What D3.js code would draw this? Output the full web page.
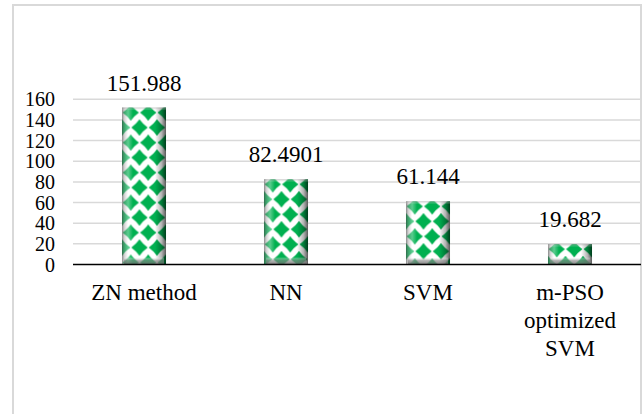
<!DOCTYPE html>
<html><head><meta charset="utf-8">
<script src="https://cdn.jsdelivr.net/npm/d3@7"></script>
<style>body{margin:0;background:#fff}svg{display:block}</style>
</head><body>
<script>
const categories = ["ZN method", "NN", "SVM", "m-PSO optimized SVM"];
const categoryLines = [["ZN method"], ["NN"], ["SVM"], ["m-PSO", "optimized", "SVM"]];
const values = [151.988, 82.4901, 61.144, 19.682];
const valueLabels = ["151.988", "82.4901", "61.144", "19.682"];
const yTicks = [0, 20, 40, 60, 80, 100, 120, 140, 160];

const W = 642, H = 414;
const FONT = '"Liberation Serif"';
const svg = d3.select("body").append("svg").attr("width", W).attr("height", H);

svg.append("rect").attr("x", 13).attr("y", 5).attr("width", 628).attr("height", 420)
  .attr("fill", "#fff").attr("stroke", "#d9d9d9").attr("stroke-width", 2);

const x = d3.scaleBand().domain(categories).range([73, 641]).paddingInner(0.69).paddingOuter(0.345);
const y = d3.scaleLinear().domain([0, 160]).range([264.5, 99.3]);

const defs = svg.append("defs");
const gh = defs.append("linearGradient").attr("id", "bevH").attr("x1", 0).attr("x2", 1).attr("y1", 0).attr("y2", 0);
[[0, "#444", 0.65], [0.06, "#999", 0.4], [0.14, "#fff", 0.35], [0.25, "#fff", 0], [0.75, "#000", 0], [0.9, "#000", 0.3], [1, "#000", 0.65]]
  .forEach(([o, c, a]) => gh.append("stop").attr("offset", o).attr("stop-color", c).attr("stop-opacity", a));
const gv = defs.append("linearGradient").attr("id", "bevB").attr("x1", 0).attr("x2", 0).attr("y1", 0).attr("y2", 1);
[[0, "#fff", 0.2], [0.4, "#888", 0.6], [1, "#666", 0.85]]
  .forEach(([o, c, a]) => gv.append("stop").attr("offset", o).attr("stop-color", c).attr("stop-opacity", a));
const gt = defs.append("linearGradient").attr("id", "bevT").attr("x1", 0).attr("x2", 0).attr("y1", 0).attr("y2", 1);
[[0, "#888", 0.5], [1, "#fff", 0]]
  .forEach(([o, c, a]) => gt.append("stop").attr("offset", o).attr("stop-color", c).attr("stop-opacity", a));

const diamond = (cx, cy, rx, ry) => {
  const k = 0.42;
  return `M${cx},${cy - ry}Q${cx + rx * k},${cy - ry * k} ${cx + rx},${cy}Q${cx + rx * k},${cy + ry * k} ${cx},${cy + ry}` +
    `Q${cx - rx * k},${cy + ry * k} ${cx - rx},${cy}Q${cx - rx * k},${cy - ry * k} ${cx},${cy - ry}Z`;
};

values.forEach((v, i) => {
  const bx = x(categories[i]), by = y(v);
  const p = defs.append("pattern").attr("id", "pat" + i).attr("patternUnits", "userSpaceOnUse")
    .attr("x", bx).attr("y", by).attr("width", 17.5).attr("height", 30);
  p.append("rect").attr("width", 17.5).attr("height", 30).attr("fill", "#fff");
  const r = 8.2;
  const dpath = diamond(8.75, 5, r, r) + diamond(0, 20, r, r) + diamond(17.5, 20, r, r) +
    diamond(8.75, 35, r, r) + diamond(0, -10, r, r) + diamond(17.5, -10, r, r);
  p.append("path").attr("d", dpath).attr("fill", "#00b050");
});

svg.append("g").selectAll("line").data(yTicks.filter(t => t > 0)).join("line")
  .attr("x1", 73).attr("x2", 641).attr("y1", d => y(d)).attr("y2", d => y(d))
  .attr("stroke", "#d9d9d9").attr("stroke-width", 1.5);

const bars = svg.append("g").selectAll("g").data(values).join("g");
bars.append("rect").attr("x", (d, i) => x(categories[i])).attr("y", d => y(d))
  .attr("width", x.bandwidth()).attr("height", d => y(0) - y(d))
  .attr("fill", (d, i) => `url(#pat${i})`);
bars.append("rect").attr("x", (d, i) => x(categories[i])).attr("y", d => y(d))
  .attr("width", x.bandwidth()).attr("height", d => y(0) - y(d)).attr("fill", "url(#bevH)");
bars.append("rect").attr("x", (d, i) => x(categories[i]) + 2).attr("y", d => y(0) - 7)
  .attr("width", x.bandwidth() - 4).attr("height", 7).attr("fill", "url(#bevB)");
bars.append("rect").attr("x", (d, i) => x(categories[i])).attr("y", d => y(d))
  .attr("width", x.bandwidth()).attr("height", 3).attr("fill", "url(#bevT)");

svg.append("line").attr("x1", 73).attr("x2", 641).attr("y1", y(0)).attr("y2", y(0))
  .attr("stroke", "#000").attr("stroke-width", 1.5);

const yAxis = d3.axisLeft(y).tickValues(yTicks).tickSize(0).tickPadding(0);
const ya = svg.append("g").attr("transform", "translate(55,0)").call(yAxis);
ya.select(".domain").remove();
ya.attr("font-family", null).attr("font-size", null);
ya.selectAll("text").style("font-family", FONT).style("font-size", "20px").attr("fill", "#000").attr("dy", "0.33em");

svg.append("g").selectAll("text").data(values).join("text")
  .attr("x", (d, i) => x(categories[i]) + x.bandwidth() / 2).attr("y", d => y(d) - 17)
  .attr("text-anchor", "middle").style("font-family", FONT).style("font-size", "23px").attr("fill", "#000")
  .text((d, i) => valueLabels[i]);

const cl = svg.append("g").selectAll("text").data(categories).join("text")
  .attr("x", d => x(d) + x.bandwidth() / 2).attr("y", 300)
  .attr("text-anchor", "middle").style("font-family", FONT).style("font-size", "23px").attr("fill", "#000");
cl.each(function (d, i) {
  d3.select(this).selectAll("tspan").data(categoryLines[i]).join("tspan")
    .attr("x", x(d) + x.bandwidth() / 2).attr("dy", (t, j) => j === 0 ? 0 : 28).text(t => t);
});
</script>
</body></html>
